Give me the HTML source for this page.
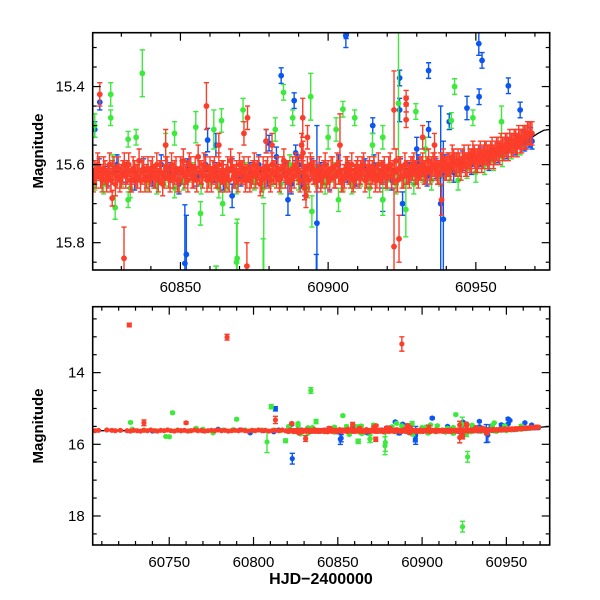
<!DOCTYPE html>
<html><head><meta charset="utf-8"><style>
html,body{margin:0;padding:0;background:#fff;width:600px;height:600px;overflow:hidden;}
svg{display:block;font-family:"Liberation Sans",sans-serif;}
</style></head><body>
<svg id="chart" width="600" height="600" viewBox="0 0 600 600" xmlns="http://www.w3.org/2000/svg">
<defs>
<clipPath id="clipTop"><rect x="92.7" y="32.7" width="457" height="237.3"/></clipPath>
<clipPath id="clipBot"><rect x="92.7" y="306.7" width="457" height="238.3"/></clipPath>
</defs>
<g id="top"></g>
<g id="bot"></g>
<text transform="translate(43,151) rotate(-90)" text-anchor="middle" font-size="15" font-weight="bold">Magnitude</text>
<text transform="translate(43,426) rotate(-90)" text-anchor="middle" font-size="15" font-weight="bold">Magnitude</text>
<text x="321" y="584" text-anchor="middle" font-size="16" font-weight="bold">HJD−2400000</text>
</svg>
<script>
// ---- data ----
const redBandT = [60821,60822,60823,60824,60825,60826,60827,60828,60829,60830,60831,60832,60833,60834,60835,60836,60837,60838,60839,60840,60841,60842,60843,60844,60845,60846,60847,60848,60849,60850,60851,60852,60853,60854,60855,60856,60857,60858,60859,60860,60861,60862,60863,60864,60865,60866,60867,60868,60869,60870,60871,60872,60873,60874,60875,60876,60877,60878,60879,60880,60881,60882,60883,60884,60885,60886,60887,60888,60889,60890,60891,60892,60893,60894,60895,60896,60897,60898,60899,60900,60901,60902,60903,60904,60905,60906,60907,60908,60909,60910,60911,60912,60913,60914,60915,60916,60917,60918,60919,60920,60921,60922,60923,60924,60925,60926,60927,60928,60929,60930,60931,60932,60933,60934,60935,60936,60937,60938,60939,60940,60941,60942,60943,60944,60945,60946,60947,60948,60949,60950,60951,60952,60953,60954,60955,60956,60957,60958,60959,60960,60961,60962,60963,60964,60965,60966,60967,60968,60969];
const redBandM = [15.62,15.60,15.63,15.61,15.64,15.60,15.62,15.65,15.61,15.63,
15.60,15.62,15.64,15.61,15.63,15.59,15.62,15.64,15.61,15.62,
15.63,15.60,15.62,15.65,15.61,15.63,15.60,15.62,15.64,15.61,
15.59,15.62,15.60,15.63,15.61,15.58,15.62,15.60,15.64,15.61,
15.62,15.63,15.60,15.62,15.64,15.61,15.59,15.63,15.62,15.60,
15.62,15.64,15.61,15.63,15.60,15.62,15.65,15.61,15.62,15.63,
15.60,15.62,15.61,15.63,15.59,15.62,15.64,15.61,15.60,15.62,
15.58,15.63,15.61,15.60,15.62,15.64,15.61,15.63,15.60,15.62,
15.61,15.63,15.60,15.62,15.64,15.61,15.62,15.60,15.63,15.61,
15.62,15.60,15.63,15.61,15.62,15.64,15.60,15.62,15.61,15.63,
15.60,15.62,15.59,15.61,15.63,15.60,15.62,15.61,15.60,15.62,
15.61,15.60,15.62,15.59,15.61,15.60,15.62,15.60,15.59,15.61,
15.60,15.58,15.60,15.59,15.61,15.58,15.60,15.59,15.57,15.59,
15.58,15.59,15.57,15.58,15.57,15.58,15.56,15.57,15.56,15.55,
15.56,15.55,15.54,15.55,15.54,15.53,15.53,15.52,15.52];
const redBand2T = [60820.5,60821.5,60822.5,60823.5,60824.5,60825.5,60826.5,60827.5,60828.5,60829.5,60830.5,60831.5,60832.5,60833.5,60834.5,60835.5,60836.5,60837.5,60838.5,60839.5,60840.5,60841.5,60842.5,60843.5,60844.5,60845.5,60846.5,60847.5,60848.5,60849.5,60850.5,60851.5,60852.5,60853.5,60854.5,60855.5,60856.5,60857.5,60858.5,60859.5,60860.5,60861.5,60862.5,60863.5,60864.5,60865.5,60866.5,60867.5,60868.5,60869.5,60870.5,60871.5,60872.5,60873.5,60874.5,60875.5,60876.5,60877.5,60878.5,60879.5,60880.5,60881.5,60882.5,60883.5,60884.5,60885.5,60886.5,60887.5,60888.5,60889.5,60890.5,60891.5,60892.5,60893.5,60894.5,60895.5,60896.5,60897.5,60898.5,60899.5,60900.5,60901.5,60902.5,60903.5,60904.5,60905.5,60906.5,60907.5,60908.5,60909.5,60910.5,60911.5,60912.5,60913.5,60914.5,60915.5,60916.5,60917.5,60918.5,60919.5,60920.5,60921.5,60922.5,60923.5,60924.5,60925.5,60926.5,60927.5,60928.5,60929.5,60930.5,60931.5,60932.5,60933.5,60934.5,60935.5,60936.5,60937.5,60938.5,60939.5,60940.5,60941.5,60942.5,60943.5,60944.5,60945.5,60946.5,60947.5,60948.5,60949.5,60950.5,60951.5,60952.5,60953.5,60954.5,60955.5,60956.5,60957.5,60958.5,60959.5,60960.5,60961.5,60962.5,60963.5,60964.5,60965.5,60966.5,60967.5,60968.5];
const redBand2M = [15.64,15.63,15.61,15.64,15.62,15.63,15.64,15.61,15.63,15.64,
15.62,15.63,15.60,15.64,15.62,15.63,15.64,15.61,15.63,15.64,
15.61,15.63,15.64,15.62,15.63,15.61,15.64,15.63,15.61,15.64,
15.62,15.63,15.64,15.61,15.63,15.64,15.62,15.63,15.61,15.63,
15.64,15.61,15.63,15.64,15.62,15.63,15.64,15.61,15.63,15.64,
15.62,15.61,15.63,15.64,15.62,15.63,15.61,15.64,15.63,15.61,
15.64,15.62,15.63,15.64,15.61,15.63,15.62,15.64,15.63,15.61,
15.64,15.62,15.63,15.64,15.61,15.62,15.63,15.64,15.62,15.63,
15.64,15.61,15.63,15.62,15.64,15.63,15.61,15.63,15.64,15.62,
15.63,15.61,15.64,15.62,15.63,15.61,15.63,15.64,15.62,15.63,
15.61,15.63,15.62,15.64,15.61,15.63,15.62,15.63,15.61,15.62,
15.63,15.61,15.62,15.61,15.62,15.60,15.61,15.62,15.60,15.61,
15.60,15.61,15.59,15.60,15.60,15.59,15.60,15.58,15.59,15.58,
15.59,15.57,15.58,15.57,15.58,15.56,15.57,15.56,15.55,15.56,
15.55,15.54,15.55,15.54,15.53,15.54,15.53,15.52,15.52];
const redEarlyT = [60706,60708,60713,60716,60718,60721,60725,60727,60729,60731,60733,60735,60737,60739,60741,60743,60745,60747,60749,60751,60753,60755,60757,60759,60761,60763,60765,60767,60769,60771,60773,60775,60777,60779,60781,60783,60785,60787,60789,60791,60793,60795,60797,60799,60801,60803,60805,60807,60809,60811,60813,60815,60817,60819];
const redEarlyM = [15.62,15.61,15.60,15.61,15.62,15.61,15.62,15.63,15.61,15.62,15.63,15.61,15.62,15.60,15.62,15.63,15.61,15.62,15.60,15.62,15.63,15.61,15.62,15.61,15.63,15.62,15.60,15.62,15.61,15.63,15.62,15.61,15.62,15.60,15.62,15.61,15.63,15.62,15.61,15.62,15.60,15.62,15.63,15.61,15.62,15.60,15.62,15.61,15.63,15.62,15.61,15.62,15.60,15.62];
const redOutT = [60822.7,60826.9,60830.9,60858.8,60872.5,60872.7,60871.5,60891.4,60922.3,60922.3,60926.4,60926.4,60926.4,60938.4,60726.3,60784.3,60888,60735,60760,60813,60924,60881,60904,60932,60936,60845,60863,60879,60891,60891.5,60892,60892.5,60893];
const redOutM = [15.42,15.686,15.84,15.45,15.86,15.48,15.52,15.48,15.46,15.81,15.43,15.445,15.485,15.69,12.67,13.01,13.2,15.40,15.40,15.32,15.79,15.55,15.55,15.53,15.55,15.55,15.55,15.54,15.55,15.57,15.66,15.68,15.53];
const redOutE = [0.03,0.02,0.08,0.06,0.06,0.03,0.03,0.05,0.1,0.15,0.02,0.02,0.02,0.04,0.05,0.08,0.2,0.08,0.03,0.1,0.06,0.03,0.08,0.03,0.03,0.04,0.03,0.03,0.03,0.03,0.03,0.03,0.03];

const greenBandT = [60821,60824,60827,60830,60833,60836,60839,60842,60845,60848,60851,60854,60857,60860,60863,60866,60869,60872,60875,60878,60881,60884,60887,60890,60893,60896,60899,60902,60905,60908,60911,60914,60917,60920,60923,60926,60929,60932,60935,60938,60941,60944,60947,60950,60953,60956,60959,60962,60965];
const greenBandM = [15.64,15.65,15.60,15.63,15.66,15.62,15.64,15.65,15.63,15.66,15.64,15.62,15.65,15.63,15.66,15.64,15.65,15.62,15.64,15.66,15.63,15.65,15.60,15.64,15.66,15.63,15.65,15.62,15.64,15.65,15.63,15.66,15.62,15.64,15.65,15.63,15.65,15.62,15.64,15.63,15.62,15.64,15.61,15.62,15.60,15.59,15.58,15.56,15.55];
const greenEarlyT = [60728,60735,60742,60748,60755,60762,60766,60770,60776,60782,60788,60795,60800,60805,60812,60816];
const greenEarlyM = [15.58,15.60,15.62,15.78,15.60,15.62,15.55,15.58,15.68,15.60,15.59,15.60,15.62,15.60,15.60,15.62];
const greenOutT = [60837.1,60826.4,60826.4,60821,60832.3,60835,60827.9,60832.3,60855.2,60861.3,60863.9,60856.8,60864.3,60869.2,60862.2,60878.2,60871.2,60884.9,60888,60894.1,60894.5,60882.1,60923.8,60929.7,60942.8,60905,60909,60902.7,60918.5,60918.5,60941.7,60949,60958.7,60926.3,60903.5,60834,60810.5,60924,60927,60808,60878,60727,60752,60790,60750,60853,60920,60819,60862,60869,60845,60848,60900,60915,60933];
const greenOutM = [15.366,15.42,15.48,15.50,15.535,15.53,15.71,15.69,15.504,15.51,15.487,15.725,15.70,15.84,15.92,15.95,15.46,15.415,15.48,15.426,15.72,15.51,15.443,15.464,15.40,15.458,15.48,15.51,15.53,15.69,15.487,15.48,15.49,15.715,15.69,14.5,14.95,18.3,16.35,15.93,16.04,15.39,15.12,15.30,15.79,15.20,15.17,15.90,15.91,15.85,15.55,15.52,15.53,15.55,15.56];
const greenOutE = [0.06,0.03,0.02,0.03,0.02,0.02,0.03,0.02,0.04,0.05,0.03,0.03,0.03,0.1,0.06,0.25,0.03,0.02,0.02,0.06,0.04,0.03,0.2,0.02,0.02,0.02,0.02,0.03,0.03,0.04,0.02,0.02,0.04,0.07,0.03,0.08,0.06,0.15,0.15,0.3,0.25,0.03,0.03,0.03,0.03,0.03,0.03,0.05,0.05,0.1,0.03,0.03,0.03,0.03,0.03];

const blueBandT = [60822.5,60825.5,60828.5,60831.5,60834.5,60837.5,60840.5,60843.5,60846.5,60849.5,60852.5,60855.5,60858.5,60861.5,60864.5,60867.5,60870.5,60873.5,60876.5,60879.5,60882.5,60885.5,60887.5,60889.5,60891.5,60894.5,60897.5,60900.5,60903.5,60906.5,60909.5,60912.5,60915.5,60918.5,60921.5,60924.5,60927.5,60930.5,60933.5,60936.5,60939.5,60942.5,60945.5,60948.5,60951.5,60954.5,60957.5,60960.5,60963.5,60966.5,60968.5];
const blueBandM = [15.61,15.63,15.60,15.62,15.64,15.61,15.63,15.60,15.62,15.65,15.61,15.63,15.60,15.62,15.64,15.61,15.63,15.62,15.60,15.63,15.58,15.62,15.65,15.60,15.63,15.61,15.62,15.64,15.60,15.62,15.63,15.61,15.60,15.62,15.64,15.61,15.62,15.60,15.63,15.61,15.60,15.62,15.59,15.60,15.58,15.59,15.57,15.56,15.55,15.54,15.53];
const blueEarlyT = [60740,60757,60770,60779,60792,60798,60806,60812,60815];
const blueEarlyM = [15.63,15.62,15.62,15.58,15.60,15.68,15.62,15.65,15.60];
const blueOutT = [60822.7,60821,60859.2,60851.5,60867.5,60884.1,60888.5,60879,60880,60896.2,60886.4,60906.1,60924.2,60924.2,60934,60952.1,60951.1,60961,60965,60947,60915.1,60934,60941,60938.1,60925.2,60918.5,60823,60852,60813,60906,60951,60896,60939,60889,60890,60891,60892,60966,60967,60968,60969,60862,60930];
const blueOutM = [15.44,15.51,15.537,15.853,15.68,15.372,15.436,15.54,15.545,15.75,15.69,15.267,15.378,15.46,15.359,15.333,15.426,15.398,15.46,15.455,15.50,15.51,15.49,15.70,15.70,15.69,16.4,15.83,15.01,15.27,15.29,15.88,15.74,15.57,15.60,15.64,15.66,15.53,15.54,15.535,15.54,15.55,15.56];
const blueOutE = [0.02,0.02,0.03,0.15,0.03,0.02,0.02,0.03,0.02,0.25,0.04,0.01,0.02,0.03,0.02,0.02,0.02,0.02,0.02,0.03,0.02,0.02,0.02,0.25,0.03,0.03,0.15,0.1,0.06,0.03,0.03,0.05,0.2,0.02,0.02,0.02,0.02,0.02,0.02,0.02,0.02,0.03,0.03];

const modelT = [60705,60800,60900,60930,60950,60960,60965,60968,60971,60973,60975];
const modelM = [15.62,15.62,15.615,15.61,15.59,15.57,15.55,15.535,15.52,15.512,15.51];

const topXTicks = [60850,60900,60950];
const topYTicks = [15.4,15.6,15.8];
const botXTicks = [60750,60800,60850,60900,60950];
const botYTicks = [14,16,18];

// ---- panels ----
const NS = "http://www.w3.org/2000/svg";
function mk(tag, attrs, parent){ const e=document.createElementNS(NS,tag); for(const k in attrs) e.setAttribute(k,attrs[k]); parent.appendChild(e); return e; }

const panels = [
 {g:document.getElementById('top'), clip:'clipTop', x0:92.7,x1:549.7,y0:32.7,y1:270, t0:60820.3,t1:60975, m0:15.262,m1:15.87,
  xMaj:topXTicks, xMinStep:10, yMaj:topYTicks, yMinStep:0.05, r:2.9, cap:2.6, name:'top'},
 {g:document.getElementById('bot'), clip:'clipBot', x0:92.7,x1:549.7,y0:306.7,y1:545, t0:60704.6,t1:60975.7, m0:12.16,m1:18.81,
  xMaj:botXTicks, xMinStep:10, yMaj:botYTicks, yMinStep:0.5, r:2.6, cap:2.6, name:'bottom'}
];

const COLORS = {blue:'#0b55f2', green:'#3cea3c', red:'#fb3d2a'};

panels.forEach(p=>{
  const X = t => p.x0 + (t-p.t0)/(p.t1-p.t0)*(p.x1-p.x0);
  const Y = m => p.y0 + (m-p.m0)/(p.m1-p.m0)*(p.y1-p.y0);
  const data = mk('g',{'clip-path':'url(#'+p.clip+')'},p.g);
  
  
  let d='';
  modelT.forEach((t,i)=>{ d += (i?'L':'M')+X(t).toFixed(2)+','+Y(modelM[i]).toFixed(2); });
  const ml = mk('path',{d:d,fill:'none',stroke:'#000','stroke-width':1.3},data);
  
  

  function series(color, T, M, E, defErr, label){
    const g = mk('g',{fill:COLORS[color],stroke:COLORS[color]},data);
    
    
    T.forEach((t,i)=>{
      if(M[i]===undefined) return;
      const x=X(t), y=Y(M[i]);
      const e = E ? E[i] : defErr;
      const ya=Y(M[i]-e), yb=Y(M[i]+e);
      mk('path',{d:`M${x},${ya}L${x},${yb}M${x-p.cap},${ya}L${x+p.cap},${ya}M${x-p.cap},${yb}L${x+p.cap},${yb}`,'stroke-width':1.4,fill:'none'},g);
      const c = mk('circle',{cx:x,cy:y,r:p.r,stroke:'none'},g);
      
      
    });
  }
  series('blue', blueBandT, blueBandM, null, 0.025, 'band');
  series('blue', blueEarlyT, blueEarlyM, null, 0.02, 'early');
  series('green', greenBandT, greenBandM, null, 0.025, 'band');
  series('green', greenEarlyT, greenEarlyM, null, 0.02, 'early');
  series('blue', blueOutT, blueOutM, blueOutE, 0, 'outlier');
  series('green', greenOutT, greenOutM, greenOutE, 0, 'outlier');
  series('red', redEarlyT, redEarlyM, null, 0.02, 'early');
  series('red', redBand2T, redBand2M, null, 0.03, 'band2');
  series('red', redBandT, redBandM, null, 0.03, 'band');
  series('red', redOutT, redOutM, redOutE, 0, 'outlier');

  const fr = mk('rect',{x:p.x0,y:p.y0,width:p.x1-p.x0,height:p.y1-p.y0,fill:'none',stroke:'#000','stroke-width':1.6},p.g);
  
  
  const ax = mk('g',{stroke:'#000','stroke-width':1.2},p.g);
  
  
  const ts = Math.ceil(p.t0/p.xMinStep)*p.xMinStep;
  for(let t=ts; t<=p.t1; t+=p.xMinStep){
    const x=X(t); const major = p.xMaj.includes(t); const L = major?8:4;
    mk('line',{x1:x,y1:p.y1,x2:x,y2:p.y1-L},ax);
    mk('line',{x1:x,y1:p.y0,x2:x,y2:p.y0+L},ax);
  }
  const ms = Math.ceil(p.m0/p.yMinStep-1e-9);
  for(let k=ms; k*p.yMinStep<=p.m1; k++){
    const m = +(k*p.yMinStep).toFixed(3);
    const y=Y(m); const major = p.yMaj.some(v=>Math.abs(v-m)<1e-6); const L = major?8:4;
    mk('line',{x1:p.x0,y1:y,x2:p.x0+L,y2:y},ax);
    mk('line',{x1:p.x1,y1:y,x2:p.x1-L,y2:y},ax);
  }
  p.xMaj.forEach(t=>{
    const tx = mk('text',{x:X(t),y:p.y1+22,'text-anchor':'middle','font-size':15},p.g);
    tx.textContent = String(t);
    
    
  });
  p.yMaj.forEach(m=>{
    const tx = mk('text',{x:p.x0-8,y:Y(m)+5,'text-anchor':'end','font-size':15},p.g);
    tx.textContent = (p.name==='top') ? m.toFixed(1) : String(m);
    
    
  });
});
</script>
</body></html>
